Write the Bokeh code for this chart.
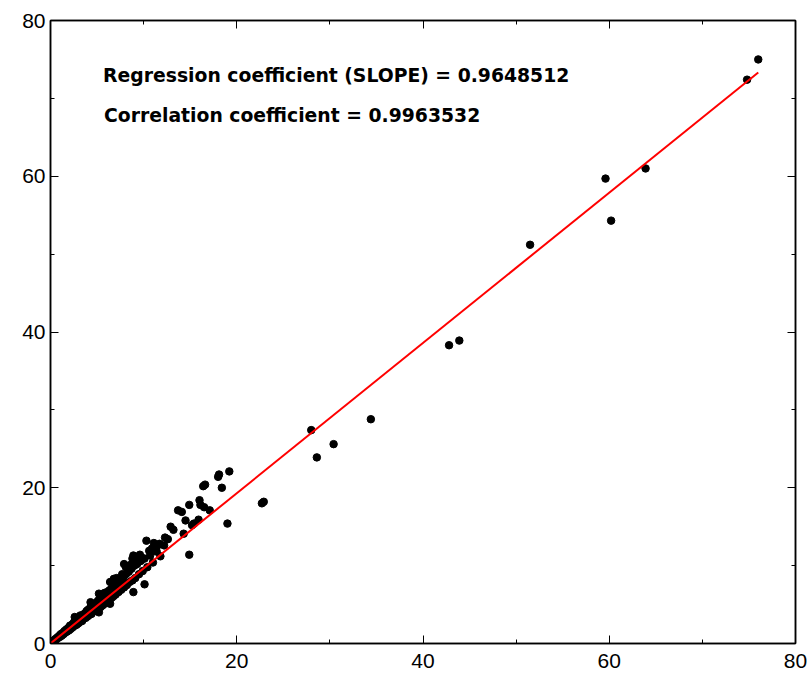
from bokeh.plotting import figure
from bokeh.models import Range1d, FixedTicker, LinearAxis, Label, CustomLabelingPolicy
from bokeh.embed import file_html
from bokeh.resources import INLINE

# ---- data ----
obs_x = [0.1, 0.2, 0.3, 0.4, 0.5, 0.6, 0.7, 0.8, 0.9, 1.0, 1.1, 1.2, 1.3, 1.4, 1.5, 1.6,
         1.7, 1.8, 1.9, 2.0, 2.1, 2.2, 2.3, 2.4, 2.5, 2.6, 2.7, 2.8, 2.9, 3.0, 3.1, 3.2,
         3.3, 3.4, 3.5, 3.6, 3.7, 3.8, 3.9, 4.0, 4.1, 4.2, 4.3, 4.4, 4.5, 4.6, 4.7, 4.8,
         4.9, 5.0, 5.1, 5.2, 5.3, 5.4, 5.5, 5.6, 5.7, 5.8, 5.9, 6.0, 6.1, 6.2, 6.3, 6.4,
         6.5, 6.6, 6.7, 6.8, 6.9, 7.0, 7.2, 7.3, 7.5, 7.6, 7.8, 7.9, 8.1, 8.2, 8.4, 8.5,
         8.7, 8.8, 9.0, 9.1, 9.3, 9.5, 9.7, 9.9, 10.1, 10.4, 10.7, 11.0, 11.4, 11.8, 12.2,
         0.5, 1.0, 1.5, 2.0, 2.5, 3.0, 3.5, 4.0, 4.5, 5.0, 5.5, 6.0, 6.5, 7.0, 7.5, 8.0,
         2.6, 4.3, 5.4, 5.2, 6.4, 8.9, 10.1, 6.4, 6.8, 5.2, 7.9, 8.1, 8.8, 8.9, 10.6,
         10.3, 11.1, 11.5, 12.3, 14.3, 12.9, 13.2, 15.4, 15.2, 14.5, 15.9, 16.5, 17.1,
         13.7, 14.1, 14.9, 16.0, 16.1, 16.4, 16.6, 18.0, 18.1, 18.4, 19.2, 19.0, 14.9,
         22.7, 22.9, 28.0, 28.6, 30.4, 34.4, 42.8, 43.9, 51.5, 59.6, 60.2, 63.9, 74.8, 76.0,
         3.2, 4.6, 5.8, 6.9, 7.7, 8.3, 9.2, 9.6, 10.9, 11.7, 12.6, 7.1, 8.6, 9.8]
obs_y = [0.1, 0.15, 0.35, 0.3, 0.55, 0.5, 0.75, 0.7, 0.95, 0.85, 1.2, 1.0, 1.35, 1.2, 1.6, 1.4,
         1.8, 1.55, 2.0, 1.7, 2.3, 1.9, 2.4, 2.1, 2.7, 2.3, 2.9, 2.4, 3.1, 2.6, 3.3, 2.8,
         3.5, 2.9, 3.7, 3.2, 3.9, 3.3, 4.2, 3.5, 4.4, 3.7, 4.6, 3.8, 4.8, 4.1, 5.1, 4.2,
         5.2, 4.4, 5.5, 4.6, 5.7, 4.7, 5.9, 4.9, 6.2, 5.1, 6.3, 5.3, 6.6, 5.5, 6.8, 5.7,
         7.0, 5.9, 7.3, 6.1, 7.5, 6.3, 7.9, 6.6, 8.2, 6.9, 8.5, 7.2, 8.9, 7.5, 9.2, 7.9,
         9.6, 8.1, 10.0, 8.4, 10.2, 8.9, 10.6, 9.3, 10.9, 9.8, 11.3, 10.4, 11.8, 11.2, 12.6,
         0.5, 1.0, 1.45, 1.95, 2.4, 2.9, 3.4, 3.9, 4.3, 4.8, 5.3, 5.8, 6.3, 6.8, 7.3, 7.7,
         3.4, 5.3, 6.2, 4.0, 5.1, 6.6, 7.6, 7.9, 8.3, 6.4, 10.2, 9.8, 10.9, 11.3, 11.9,
         13.2, 12.9, 12.6, 13.6, 14.1, 15.0, 14.6, 15.4, 15.2, 15.8, 15.9, 17.5, 17.1,
         17.1, 16.9, 17.8, 18.4, 17.8, 20.2, 20.4, 21.4, 21.7, 20.0, 22.1, 15.4, 11.4,
         18.0, 18.2, 27.4, 23.9, 25.6, 28.8, 38.3, 38.9, 51.2, 59.7, 54.3, 61.0, 72.4, 75.0,
         3.6, 5.0, 6.5, 7.8, 8.9, 9.7, 10.7, 11.4, 12.2, 12.8, 13.4, 8.4, 10.1, 11.0]

slope = 0.9648512
corr = 0.9963532
fit_x = [0.0, 76.0]
fit_y = [slope * v for v in fit_x]

major_ticks = [0, 20, 40, 60, 80]
minor_ticks = [10, 30, 50, 70]

# ---- figure ----
p = figure(width=810, height=673, x_range=Range1d(0, 80), y_range=Range1d(0, 80),
           output_backend="svg", toolbar_location=None,
           min_border_left=50, min_border_right=15, min_border_top=20, min_border_bottom=30)
p.xgrid.visible = False
p.ygrid.visible = False
p.outline_line_color = "black"
p.outline_line_width = 1.5
p.background_fill_color = "white"
p.border_fill_color = "white"

hide_labels = CustomLabelingPolicy(
    code="for (let i = 0; i < indices.size; i++) { indices.unset(i) } return indices")

def style(ax, labels=True):
    ax.ticker = FixedTicker(ticks=major_ticks, minor_ticks=minor_ticks)
    ax.major_tick_in = 8
    ax.major_tick_out = 0
    ax.minor_tick_in = 4
    ax.minor_tick_out = 0
    ax.major_tick_line_color = "black"
    ax.minor_tick_line_color = "black"
    ax.axis_line_color = "black"
    ax.axis_line_width = 1.5
    ax.major_label_text_font = "Liberation Sans"
    ax.major_label_text_font_size = "21px"
    ax.major_label_text_color = "black"
    if not labels:
        ax.major_label_overrides = {t: "" for t in major_ticks}
        ax.major_label_policy = hide_labels
        ax.major_label_standoff = 0

style(p.xaxis[0])
style(p.yaxis[0])
p.xaxis[0].major_label_standoff = 10
p.yaxis[0].major_label_standoff = 5

top = LinearAxis()
right = LinearAxis()
style(top, labels=False)
style(right, labels=False)
p.add_layout(top, "above")
p.add_layout(right, "right")

p.scatter(obs_x, obs_y, size=7.5, color="black")
p.line(fit_x, fit_y, line_color="red", line_width=2)

p.add_layout(Label(x=5.65, y=72.9, text="Regression coefficient (SLOPE) = %.7f" % slope,
                   text_font="DejaVu Sans", text_font_style="bold", text_font_size="18.8px",
                   text_baseline="middle", text_color="black"))
p.add_layout(Label(x=5.75, y=67.8, text="Correlation coefficient = %.7f" % corr,
                   text_font="DejaVu Sans", text_font_style="bold", text_font_size="18.8px",
                   text_baseline="middle", text_color="black"))

open("out.html", "w").write(file_html(p, INLINE))
